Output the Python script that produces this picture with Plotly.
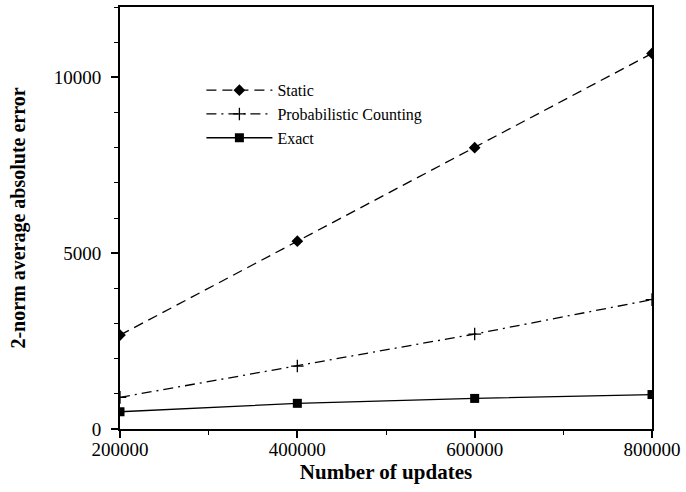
import plotly.graph_objects as go

updates = [200000, 400000, 600000, 800000]
static_err = [2670, 5340, 8000, 10680]
prob_err = [900, 1790, 2700, 3680]
exact_err = [490, 730, 870, 980]

x_ticks = [200000, 400000, 600000, 800000]
y_ticks = [0, 5000, 10000]

FONT = "Liberation Serif"

fig = go.Figure()
fig.add_trace(go.Scatter(
    x=updates, y=static_err, name="Static", mode="lines+markers",
    line=dict(color="black", width=1.3, dash="10px,6px"),
    marker=dict(symbol="diamond", size=9, color="black"),
))
fig.add_trace(go.Scatter(
    x=updates, y=prob_err, name="Probabilistic Counting", mode="lines+markers",
    line=dict(color="black", width=1.3, dash="10px,5px,2px,5px"),
    marker=dict(symbol="cross-thin", size=9, color="black",
                line=dict(color="black", width=1.3)),
))
fig.add_trace(go.Scatter(
    x=updates, y=exact_err, name="Exact", mode="lines+markers",
    line=dict(color="black", width=1.3),
    marker=dict(symbol="square", size=9, color="black"),
))

fig.update_layout(
    width=686, height=492,
    margin=dict(l=120, r=34, t=5, b=63),
    paper_bgcolor="white", plot_bgcolor="white",
    font=dict(family=FONT, color="black", size=19),
    showlegend=True,
    legend=dict(
        x=0.153, y=0.843, xanchor="left", yanchor="top",
        bgcolor="rgba(0,0,0,0)", borderwidth=0,
        font=dict(family=FONT, size=16, color="black"),
        itemwidth=66, tracegroupgap=0,
    ),
)
fig.update_xaxes(
    range=[200000, 800000], tickvals=x_ticks,
    ticktext=[str(v) for v in x_ticks],
    showgrid=False, zeroline=False,
    showline=True, linecolor="black", linewidth=2, mirror=True,
    ticks="outside", ticklen=7, tickwidth=1.5, tickcolor="black",
    ticklabelstandoff=-5,
    minor=dict(dtick=100000, tick0=200000, ticks="outside", ticklen=4,
               tickwidth=1.2, tickcolor="black", showgrid=False),
    title=dict(text="<b>Number of updates</b>", font=dict(size=21, family=FONT),
               standoff=6),
    tickfont=dict(size=19, family=FONT),
)
fig.update_yaxes(
    range=[0, 12000], tickvals=y_ticks,
    ticktext=[str(v) for v in y_ticks],
    showgrid=False, zeroline=False,
    showline=True, linecolor="black", linewidth=2, mirror=True,
    ticks="outside", ticklen=7, tickwidth=1.5, tickcolor="black",
    ticklabelstandoff=6,
    minor=dict(dtick=1000, tick0=0, ticks="outside", ticklen=4,
               tickwidth=1.2, tickcolor="black", showgrid=False),
    title=dict(text="<b>2-norm average absolute error</b>",
               font=dict(size=20, family=FONT), standoff=23),
    tickfont=dict(size=19, family=FONT),
)

fig.write_html("out.html", config={"displayModeBar": False},
               post_script="document.body.style.margin='0';document.body.style.padding='0';")
